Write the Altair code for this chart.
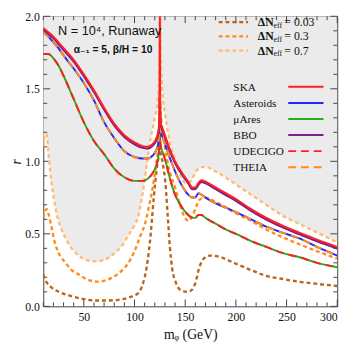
import altair as alt
import pandas as pd

# ---------------- data ----------------
M_MAIN = [10, 15, 20, 25, 30, 40, 50, 60, 70, 80, 90, 100, 108, 113, 118, 121, 123, 124,
          124.6, 125, 125.4, 126, 128, 131, 135, 140, 147, 153, 157, 160, 163, 166, 170,
          180, 190, 200, 215, 230, 245, 262, 280, 300]

R_SKA = [1.92, 1.89, 1.86, 1.82, 1.78, 1.70, 1.60, 1.49, 1.37, 1.26, 1.18, 1.13, 1.105, 1.10,
         1.12, 1.15, 1.19, 1.23, 1.32, 2.10, 1.34, 1.26, 1.22, 1.16, 1.08, 1.00, 0.92, 0.86,
         0.82, 0.82, 0.85, 0.87, 0.86, 0.82, 0.78, 0.74, 0.67, 0.61, 0.56, 0.51, 0.46, 0.41]

R_BBO = [1.908, 1.878, 1.848, 1.808, 1.768, 1.688, 1.588, 1.478, 1.358, 1.248, 1.168, 1.118,
         1.093, 1.088, 1.108, 1.138, 1.178, 1.218, 1.30, 1.50, 1.32, 1.248, 1.208, 1.148,
         1.068, 0.988, 0.908, 0.848, 0.808, 0.808, 0.838, 0.858, 0.848, 0.808, 0.768, 0.728,
         0.658, 0.598, 0.548, 0.498, 0.448, 0.398]

R_AST = [1.89, 1.86, 1.82, 1.78, 1.73, 1.64, 1.54, 1.42, 1.27, 1.16, 1.07, 1.03, 1.02, 1.02,
         1.04, 1.07, 1.11, 1.15, 1.22, 1.30, 1.24, 1.20, 1.16, 1.10, 1.02, 0.93, 0.83, 0.77,
         0.75, 0.75, 0.78, 0.77, 0.75, 0.71, 0.68, 0.65, 0.60, 0.55, 0.51, 0.47, 0.41, 0.35]

R_THEIA = [1.89, 1.86, 1.82, 1.78, 1.73, 1.64, 1.54, 1.42, 1.27, 1.16, 1.07, 1.03, 1.02, 1.02,
           1.04, 1.07, 1.11, 1.15, 1.22, 1.28, 1.24, 1.20, 1.16, 1.10, 1.02, 0.93, 0.83, 0.77,
           0.75, 0.75, 0.78, 0.77, 0.75, 0.71, 0.68, 0.65, 0.60, 0.55, 0.51, 0.47, 0.41, 0.35]

R_MUARES = [1.74, 1.74, 1.71, 1.66, 1.59, 1.43, 1.27, 1.14, 1.05, 0.95, 0.89, 0.865, 0.865,
            0.88, 0.92, 0.96, 1.01, 1.06, 1.12, 1.20, 1.14, 1.10, 1.06, 0.99, 0.88, 0.77,
            0.68, 0.63, 0.61, 0.61, 0.63, 0.63, 0.61, 0.57, 0.53, 0.50, 0.45, 0.41, 0.37,
            0.34, 0.30, 0.27]

R_UDECIGO = [1.74, 1.74, 1.71, 1.66, 1.59, 1.43, 1.27, 1.14, 1.05, 0.95, 0.89, 0.865, 0.865,
             0.88, 0.92, 0.96, 1.01, 1.06, 1.12, 1.18, 1.14, 1.10, 1.06, 0.99, 0.88, 0.77,
             0.68, 0.63, 0.61, 0.61, 0.63, 0.63, 0.61, 0.57, 0.53, 0.50, 0.45, 0.41, 0.37,
             0.34, 0.30, 0.27]

M_N07 = [10, 12, 13.5, 15, 17, 20, 22.5, 27, 32, 38, 45, 52, 61.5, 70, 81, 88, 94, 100, 104,
         108, 112, 116, 120, 123, 124.5, 125, 125.3, 126, 127.5, 130, 133, 136, 140, 145, 150,
         155, 160, 165, 170, 180, 198, 215, 230, 245, 262, 280, 300]
R_N07 = [1.10, 1.19, 1.18, 1.06, 0.92, 0.76, 0.66, 0.55, 0.47, 0.40, 0.35, 0.32, 0.31, 0.32,
         0.37, 0.42, 0.49, 0.56, 0.63, 0.78, 0.97, 1.16, 1.30, 1.42, 1.65, 2.10, 2.10, 1.70,
         1.48, 1.33, 1.20, 1.10, 1.01, 0.91, 0.85, 0.86, 0.92, 0.96, 0.96, 0.93, 0.85, 0.77,
         0.70, 0.63, 0.57, 0.51, 0.44]

M_N03 = [10, 12, 13.5, 15, 18, 21, 25, 32, 38, 45, 55, 64.5, 72, 81, 88, 94, 100, 106, 110,
         114, 118, 121, 123, 124.5, 125.2, 126, 127.5, 130, 134, 140, 145, 149, 153, 157, 161,
         165, 170, 180, 198, 215, 230, 245, 262, 280, 300]
R_N03 = [0.61, 0.66, 0.67, 0.64, 0.55, 0.45, 0.37, 0.30, 0.25, 0.22, 0.18, 0.17, 0.18, 0.21,
         0.25, 0.30, 0.38, 0.49, 0.56, 0.68, 0.82, 0.96, 1.08, 1.25, 1.40, 1.32, 1.22, 1.10,
         0.95, 0.82, 0.70, 0.62, 0.59, 0.62, 0.69, 0.74, 0.75, 0.72, 0.65, 0.59, 0.53, 0.48,
         0.43, 0.38, 0.33]

M_N003 = [10, 13, 18, 25.6, 38, 50, 60, 71, 84, 94, 103.5, 108, 112, 116, 119, 122, 124, 125,
          126, 128, 130.5, 133, 135, 137, 141, 146, 152, 156, 160, 164, 168.5, 175, 184.5, 198,
          215, 230, 245, 262, 280, 300]
R_N003 = [0.22, 0.17, 0.13, 0.10, 0.07, 0.05, 0.04, 0.04, 0.045, 0.06, 0.09, 0.15, 0.27, 0.50,
          0.75, 0.95, 1.04, 1.08, 1.05, 0.98, 0.85, 0.60, 0.40, 0.27, 0.16, 0.11, 0.10, 0.11,
          0.16, 0.27, 0.33, 0.35, 0.34, 0.30, 0.25, 0.21, 0.19, 0.17, 0.155, 0.14]

R_TOP = 2.0  # upper edge of the shaded (excluded) region

X_MAJOR = [50, 100, 150, 200, 250, 300]
X_MINOR = [10, 20, 30, 40, 60, 70, 80, 90, 110, 120, 130, 140, 160, 170, 180, 190, 210, 220,
           230, 240, 260, 270, 280, 290]
Y_MAJOR = [0.0, 0.5, 1.0, 1.5, 2.0]
Y_MINOR = [0.1, 0.2, 0.3, 0.4, 0.6, 0.7, 0.8, 0.9, 1.1, 1.2, 1.3, 1.4, 1.6, 1.7, 1.8, 1.9]

NEFF_LABELS = ["= 0.03", "= 0.3", "= 0.7"]
NEFF_COLORS = ["#b8651b", "#ff8c1a", "#ffbb78"]
DET_LABELS = ["SKA", "Asteroids", "μAres", "BBO", "UDECIGO", "THEIA"]
DET_COLORS = ["#ff1f1f", "#1a2cff", "#22b022", "#7d1f8c", "#ff1f1f", "#ff8c1a"]
DET_DASHED = [False, False, False, False, True, True]

# ---------------- layout ----------------
W, H = 300, 296
SERIF = "Liberation Serif, Times New Roman, DejaVu Serif"
SANS = "Liberation Sans, Arial, DejaVu Sans"
FRAME = "#444444"
DOT = [4, 3]
DASH = [8, 5]

xs = alt.Scale(domain=[10, 300], nice=False, zero=False)
ys = alt.Scale(domain=[0, 2], nice=False, zero=False)
x_axis = alt.Axis(values=X_MAJOR, ticks=False, domain=False, grid=False, labelFont=SERIF,
                  labelFontSize=12, labelPadding=5, labelColor="#111", titleFont=SERIF,
                  titleFontSize=14, titleFontWeight="normal", titlePadding=6,
                  titleColor="#111", format="d")
y_axis = alt.Axis(values=Y_MAJOR, ticks=False, domain=False, grid=False, labelFont=SERIF,
                  labelFontSize=12, labelPadding=4, labelColor="#111", titleFont=SERIF,
                  titleFontSize=14, titleFontWeight="normal", titleFontStyle="italic",
                  titlePadding=1, titleColor="#111", format=".1f")
X = alt.X("m:Q", scale=xs, axis=x_axis, title="mᵩ (GeV)")
Y = alt.Y("r:Q", scale=ys, axis=y_axis, title="r")


def frame(m, r):
    return pd.DataFrame({"m": m, "r": r})


def curve(m, r, color, dash=None, width=2.0):
    kw = dict(color=color, strokeWidth=width, clip=True, interpolate="monotone")
    if dash:
        kw["strokeDash"] = dash
    return alt.Chart(frame(m, r)).mark_line(**kw).encode(x=X, y=Y)


layers = []
# excluded (grey) region above the ΔNeff = 0.7 contour
layers.append(alt.Chart(frame(M_N07, R_N07)).mark_area(
    color="#ebebeb", opacity=1, clip=True, interpolate="monotone").encode(
    x=X, y=Y, y2=alt.datum(R_TOP)))

# ticks on all four sides (inward)
for vals, ln in ((X_MAJOR, 7), (X_MINOR, 4)):
    d = pd.DataFrame({"m": vals})
    layers.append(alt.Chart(d).mark_rule(color=FRAME, strokeWidth=1).encode(
        x=X, y=alt.value(H), y2=alt.value(H - ln)))
    layers.append(alt.Chart(d).mark_rule(color=FRAME, strokeWidth=1).encode(
        x=X, y=alt.value(0), y2=alt.value(ln)))
for vals, ln in ((Y_MAJOR, 7), (Y_MINOR, 4)):
    d = pd.DataFrame({"r": vals})
    layers.append(alt.Chart(d).mark_rule(color=FRAME, strokeWidth=1).encode(
        y=Y, x=alt.value(0), x2=alt.value(ln)))
    layers.append(alt.Chart(d).mark_rule(color=FRAME, strokeWidth=1).encode(
        y=Y, x=alt.value(W), x2=alt.value(W - ln)))

# ΔNeff contours
layers.append(curve(M_N003, R_N003, NEFF_COLORS[0], DOT, 2.4))
layers.append(curve(M_N03, R_N03, NEFF_COLORS[1], DOT, 2.4))
layers.append(curve(M_N07, R_N07, NEFF_COLORS[2], DOT, 2.4))

# detector curves
layers.append(curve(M_MAIN, R_MUARES, DET_COLORS[2]))
layers.append(curve(M_MAIN, R_UDECIGO, DET_COLORS[4], DASH))
layers.append(curve(M_MAIN, R_AST, DET_COLORS[1]))
layers.append(curve(M_MAIN, R_THEIA, DET_COLORS[5], DASH))
layers.append(curve(M_MAIN, R_BBO, DET_COLORS[3], None, 2.2))
layers.append(curve(M_MAIN, R_SKA, DET_COLORS[0], None, 2.0))


def text(s, x, y, **kw):
    base = dict(align="left", baseline="alphabetic", color="#111")
    base.update(kw)
    return alt.Chart(pd.DataFrame({"t": [s]})).mark_text(**base).encode(
        text="t:N", x=alt.value(x), y=alt.value(y))


def seg(x1, x2, y, color, dash=None, width=2.0):
    kw = dict(color=color, strokeWidth=width)
    if dash:
        kw["strokeDash"] = dash
    return alt.Chart(pd.DataFrame({"t": [0]})).mark_rule(**kw).encode(
        x=alt.value(x1), x2=alt.value(x2), y=alt.value(y))


# annotation text
layers.append(text("N = 10⁴, Runaway", 15, 19, font=SANS, fontSize=13))
layers.append(text("α₋₁ = 5, β/H = 10", 31, 37, font=SANS, fontSize=10.5, fontWeight="bold"))

# ΔNeff legend
for i, (lab, col) in enumerate(zip(NEFF_LABELS, NEFF_COLORS)):
    yy = 6 + 14.5 * i
    layers.append(seg(179, 209, yy, col, DOT, 2.2))
    layers.append(text("ΔN", 219, yy + 4, font=SERIF, fontSize=12, fontWeight="bold"))
    layers.append(text("eff", 235, yy + 6, font=SERIF, fontSize=8))
    layers.append(text(lab, 246, yy + 4, font=SERIF, fontSize=12))

# detector legend
for i, (lab, col, dsh) in enumerate(zip(DET_LABELS, DET_COLORS, DET_DASHED)):
    yy = 72 + 16.4 * i
    layers.append(text(lab, 194, yy + 4, font=SERIF, fontSize=11.5))
    layers.append(seg(250, 286, yy, col, DASH if dsh else None, 2.0))

chart = alt.layer(*layers).properties(
    width=W, height=H,
    autosize=alt.AutoSizeParams(type="none"),
    padding={"left": 36, "top": 5, "right": 12, "bottom": 36},
    background="white",
).configure_view(stroke=FRAME, strokeWidth=1)

chart.save("out.html", embed_options={"renderer": "svg", "actions": False})
